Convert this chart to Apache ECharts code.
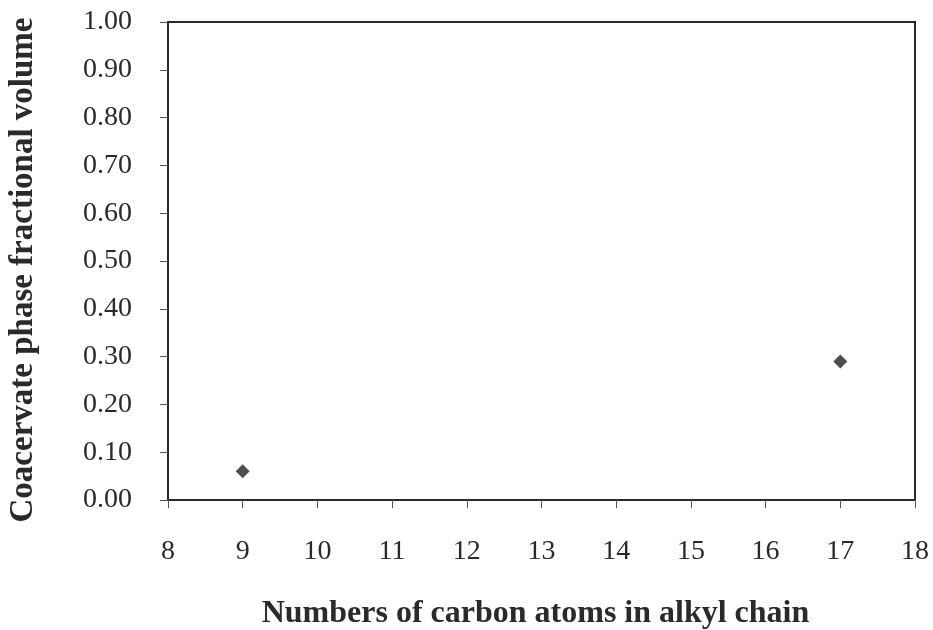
<!DOCTYPE html>
<html><head><meta charset="utf-8">
<script src="https://cdn.jsdelivr.net/npm/echarts@6/dist/echarts.min.js"></script>
<style>html,body{margin:0;padding:0;background:#fff}#c{width:933px;height:630px}</style>
</head><body><div id="c"></div>
<script>
const carbonAtoms = [9, 17];
const fractionalVolume = [0.06, 0.29];
const xTitle = 'Numbers of carbon atoms in alkyl chain';
const yTitle = 'Coacervate phase fractional volume';

const chart = echarts.init(document.getElementById('c'));
const font = 'Liberation Serif';
chart.setOption({
  animation: false,
  backgroundColor: '#fff',
  grid: {left: 168, right: 18, top: 22, bottom: 130, containLabel: false, outerBoundsMode: 'none', show: true, borderColor: '#2a2a2a', borderWidth: 2, backgroundColor: 'transparent'},
  xAxis: {
    type: 'value', min: 8, max: 18, interval: 1,
    name: xTitle, nameLocation: 'middle', nameGap: 98,
    nameTextStyle: {fontFamily: font, fontSize: 32, fontWeight: 'bold', color: '#2a2a2a', padding: [0, 12, 0, 0]},
    axisLine: {show: true, lineStyle: {color: '#2a2a2a', width: 2}},
    axisTick: {show: true, inside: false, length: 8, lineStyle: {color: '#555', width: 1}},
    axisLabel: {fontFamily: font, fontSize: 28, color: '#2a2a2a', margin: 38},
    splitLine: {show: false}
  },
  yAxis: {
    type: 'value', min: 0, max: 1, interval: 0.1,
    name: yTitle, nameLocation: 'middle', nameGap: 128,
    nameTextStyle: {fontFamily: font, fontSize: 33, fontWeight: 'bold', color: '#2a2a2a', padding: [0, 18, 0, 0]},
    axisLine: {show: true, lineStyle: {color: '#2a2a2a', width: 2}},
    axisTick: {show: true, inside: false, length: 8, lineStyle: {color: '#555', width: 1}},
    axisLabel: {fontFamily: font, fontSize: 28, color: '#2a2a2a', margin: 36, formatter: v => v.toFixed(2)},
    splitLine: {show: false}
  },
  series: [{
    type: 'scatter',
    data: carbonAtoms.map((x, i) => [x, fractionalVolume[i]]),
    symbol: 'diamond', symbolSize: 14,
    itemStyle: {color: '#222'}
  }]
});
</script></body></html>
